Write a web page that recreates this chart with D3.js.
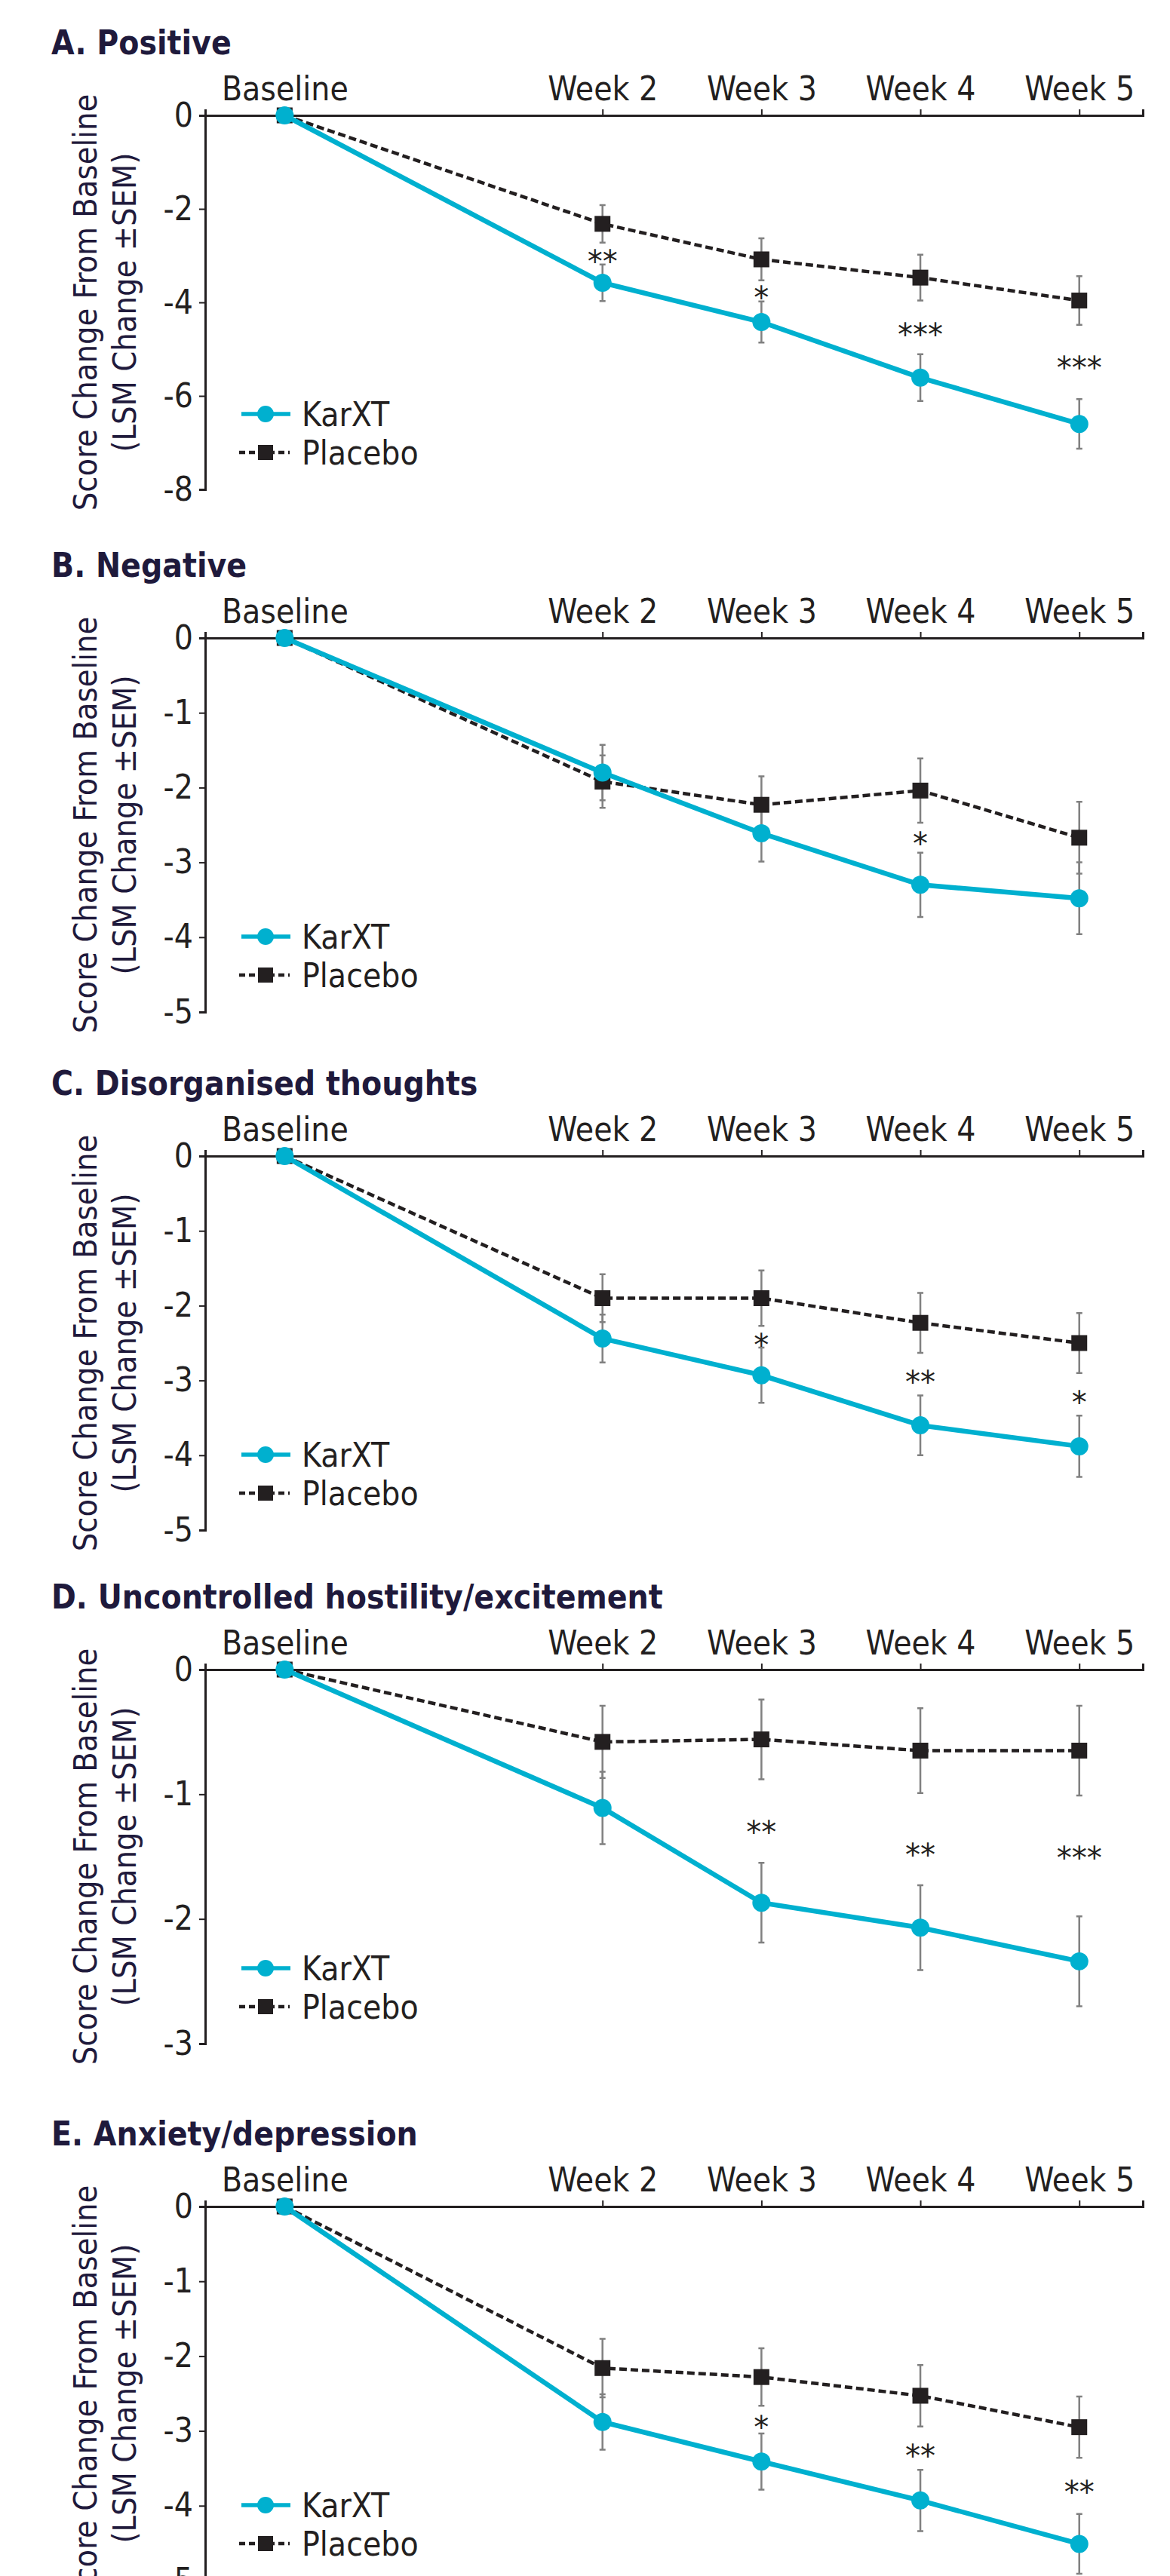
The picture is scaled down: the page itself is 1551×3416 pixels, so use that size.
<!DOCTYPE html>
<html>
<head>
<meta charset="utf-8">
<script src="https://cdn.jsdelivr.net/npm/d3@7"></script>
<style>
  body { margin: 0; background: #fff; }
  svg text { font-family: 'DejaVu Sans Condensed', 'DejaVu Sans', sans-serif; font-stretch: condensed; }
</style>
</head>
<body>
<div id="chart"></div>
<script>
const weeks = [0, 2, 3, 4, 5];
const weekLabels = ['Baseline', 'Week 2', 'Week 3', 'Week 4', 'Week 5'];
const seriesNames = ['KarXT', 'Placebo'];
const yAxisTitle = ['Score Change From Baseline', '(LSM Change \u00b1SEM)'];

const panelTitles = ['A. Positive', 'B. Negative', 'C. Disorganised thoughts',
  'D. Uncontrolled hostility/excitement', 'E. Anxiety/depression'];
const panelMins = [-8, -5, -5, -3, -5];
const panelTickSteps = [2, 1, 1, 1, 1];

// A. Positive
const karxtPositive = [0, -3.58, -4.42, -5.61, -6.60];
const karxtPositiveSem = [0, 0.39, 0.44, 0.50, 0.53];
const placeboPositive = [0, -2.32, -3.08, -3.47, -3.96];
const placeboPositiveSem = [0, 0.40, 0.45, 0.49, 0.52];
const sigPositive = ['', '**', '*', '***', '***'];
const sigPositiveY = [0, -2.99, -3.76, -4.55, -5.25];

// B. Negative
const karxtNegative = [0, -1.80, -2.61, -3.30, -3.48];
const karxtNegativeSem = [0, 0.37, 0.38, 0.43, 0.48];
const placeboNegative = [0, -1.92, -2.23, -2.04, -2.67];
const placeboNegativeSem = [0, 0.35, 0.38, 0.43, 0.48];
const sigNegative = ['', '', '', '*', ''];
const sigNegativeY = [0, 0, 0, -2.66, 0];

// C. Disorganised thoughts
const karxtDisorg = [0, -2.44, -2.93, -3.60, -3.88];
const karxtDisorgSem = [0, 0.32, 0.37, 0.40, 0.41];
const placeboDisorg = [0, -1.90, -1.90, -2.23, -2.50];
const placeboDisorgSem = [0, 0.32, 0.37, 0.40, 0.40];
const sigDisorg = ['', '', '*', '**', '*'];
const sigDisorgY = [0, 0, -2.44, -2.93, -3.21];

// D. Uncontrolled hostility/excitement
const karxtHostility = [0, -1.11, -1.87, -2.07, -2.34];
const karxtHostilitySem = [0, 0.29, 0.32, 0.34, 0.36];
const placeboHostility = [0, -0.58, -0.56, -0.65, -0.65];
const placeboHostilitySem = [0, 0.29, 0.32, 0.34, 0.36];
const sigHostility = ['', '', '**', '**', '***'];
const sigHostilityY = [0, 0, -1.25, -1.435, -1.46];

// E. Anxiety/depression
const karxtAnxiety = [0, -2.88, -3.41, -3.93, -4.51];
const karxtAnxietySem = [0, 0.37, 0.375, 0.41, 0.40];
const placeboAnxiety = [0, -2.16, -2.28, -2.53, -2.95];
const placeboAnxietySem = [0, 0.39, 0.385, 0.41, 0.41];
const sigAnxiety = ['', '', '*', '**', '**'];
const sigAnxietyY = [0, 0, -2.86, -3.25, -3.73];

const panels = [
  [karxtPositive, karxtPositiveSem, placeboPositive, placeboPositiveSem, sigPositive, sigPositiveY],
  [karxtNegative, karxtNegativeSem, placeboNegative, placeboNegativeSem, sigNegative, sigNegativeY],
  [karxtDisorg, karxtDisorgSem, placeboDisorg, placeboDisorgSem, sigDisorg, sigDisorgY],
  [karxtHostility, karxtHostilitySem, placeboHostility, placeboHostilitySem, sigHostility, sigHostilityY],
  [karxtAnxiety, karxtAnxietySem, placeboAnxiety, placeboAnxietySem, sigAnxiety, sigAnxietyY]
].map((p, i) => ({
  title: panelTitles[i], min: panelMins[i], step: panelTickSteps[i],
  karxt: p[0], karxtSem: p[1], placebo: p[2], placeboSem: p[3], sig: p[4], sigY: p[5]
}));

const width = 1551, height = 3416;
const panelTops = [153, 846, 1533, 2214, 2926];
const plotHeight = 496;
const cyan = '#00b0cf', dark = '#231f20', navy = '#1f1a3c', grey = '#808080';

const svg = d3.select('#chart').append('svg')
  .attr('width', width)
  .attr('height', height)
  .style('display', 'block');

svg.append('rect').attr('width', width).attr('height', height).attr('fill', '#fff');

const x = d3.scaleLinear().domain([-0.5, 5.4]).range([272, 1515]);

panels.forEach((p, i) => {
  const top = panelTops[i];
  const g = svg.append('g');
  const y = d3.scaleLinear().domain([p.min, 0]).range([top + plotHeight, top]);

  // panel title
  g.append('text')
    .attr('x', 68).attr('y', top - 81)
    .attr('font-size', 44).attr('font-weight', 'bold')
    .attr('fill', navy)
    .text(p.title);

  // y axis
  const yTicks = d3.range(0, p.min - 0.001, -p.step);
  const yAxis = g.append('g')
    .attr('transform', 'translate(272,0)')
    .call(d3.axisLeft(y).tickValues(yTicks).tickFormat(d => String(d)).tickSize(8).tickPadding(8));
  yAxis.select('.domain').attr('stroke', dark).attr('stroke-width', 3);
  yAxis.selectAll('.tick line').attr('stroke', dark).attr('stroke-width', 2);
  yAxis.selectAll('.tick text')
    .attr('font-size', 44).attr('fill', dark)
    .attr('font-family', null);

  // x axis on top
  const xAxis = g.append('g')
    .attr('transform', `translate(0,${top})`)
    .call(d3.axisTop(x).tickValues(weeks).tickFormat((d, j) => weekLabels[j]).tickSize(8).tickPadding(12));
  xAxis.select('.domain').attr('stroke', dark).attr('stroke-width', 3);
  xAxis.selectAll('.tick line').attr('stroke', dark).attr('stroke-width', 2);
  xAxis.selectAll('.tick text')
    .attr('font-size', 44).attr('fill', dark);

  // y axis title
  const cy = top + plotHeight / 2;
  yAxisTitle.forEach((line, k) => {
    g.append('text')
      .attr('transform', `translate(${[128, 180][k]},${cy}) rotate(-90)`)
      .attr('text-anchor', 'middle')
      .attr('font-size', 43)
      .attr('fill', navy)
      .text(line);
  });

  // error bars
  const bars = [];
  weeks.forEach((w, j) => {
    if (p.placeboSem[j] > 0) bars.push({ w, v: p.placebo[j], e: p.placeboSem[j] });
    if (p.karxtSem[j] > 0) bars.push({ w, v: p.karxt[j], e: p.karxtSem[j] });
  });
  const eb = g.append('g').attr('stroke', grey).attr('stroke-width', 2.5).attr('fill', 'none');
  eb.selectAll('path').data(bars).enter().append('path')
    .attr('d', d => {
      const cx = x(d.w), y1 = y(d.v + d.e), y2 = y(d.v - d.e);
      return `M${cx},${y1}V${y2}M${cx - 4},${y1}H${cx + 4}M${cx - 4},${y2}H${cx + 4}`;
    });

  const line = d3.line().x((d, j) => x(weeks[j])).y(d => y(d));

  // placebo
  g.append('path')
    .datum(p.placebo)
    .attr('d', line)
    .attr('fill', 'none')
    .attr('stroke', dark)
    .attr('stroke-width', 4.5)
    .attr('stroke-dasharray', '10,5');
  g.selectAll('.sq').data(p.placebo).enter().append('rect')
    .attr('class', 'sq')
    .attr('x', (d, j) => x(weeks[j]) - 10.5)
    .attr('y', d => y(d) - 10.5)
    .attr('width', 21).attr('height', 21)
    .attr('fill', dark);

  // KarXT
  g.append('path')
    .datum(p.karxt)
    .attr('d', line)
    .attr('fill', 'none')
    .attr('stroke', cyan)
    .attr('stroke-width', 6.5);
  g.selectAll('.dot').data(p.karxt).enter().append('circle')
    .attr('class', 'dot')
    .attr('cx', (d, j) => x(weeks[j]))
    .attr('cy', d => y(d))
    .attr('r', 12)
    .attr('fill', cyan);

  // significance markers
  g.selectAll('.sig').data(p.sig).enter().append('text')
    .attr('class', 'sig')
    .attr('x', (d, j) => x(weeks[j]))
    .attr('y', (d, j) => y(p.sigY[j]) + 23)
    .attr('text-anchor', 'middle')
    .attr('font-size', 40)
    .style('font-family', "'DejaVu Sans', sans-serif")
    .style('font-stretch', 'normal')
    .attr('fill', dark)
    .text(d => d);

  // legend
  const lg = g.append('g').attr('transform', `translate(0,${top + 396})`);
  lg.append('line').attr('x1', 320).attr('x2', 385).attr('y1', 0).attr('y2', 0)
    .attr('stroke', cyan).attr('stroke-width', 5.5);
  lg.append('circle').attr('cx', 352).attr('cy', 0).attr('r', 11).attr('fill', cyan);
  lg.append('text').attr('x', 400).attr('y', 16).attr('font-size', 44).attr('fill', dark).text(seriesNames[0]);

  lg.append('line').attr('x1', 317).attr('x2', 384).attr('y1', 51).attr('y2', 51)
    .attr('stroke', dark).attr('stroke-width', 4.5).attr('stroke-dasharray', '8,5');
  lg.append('rect').attr('x', 342).attr('y', 41).attr('width', 20).attr('height', 20).attr('fill', dark);
  lg.append('text').attr('x', 400).attr('y', 67).attr('font-size', 44).attr('fill', dark).text(seriesNames[1]);
});
</script>
</body>
</html>
